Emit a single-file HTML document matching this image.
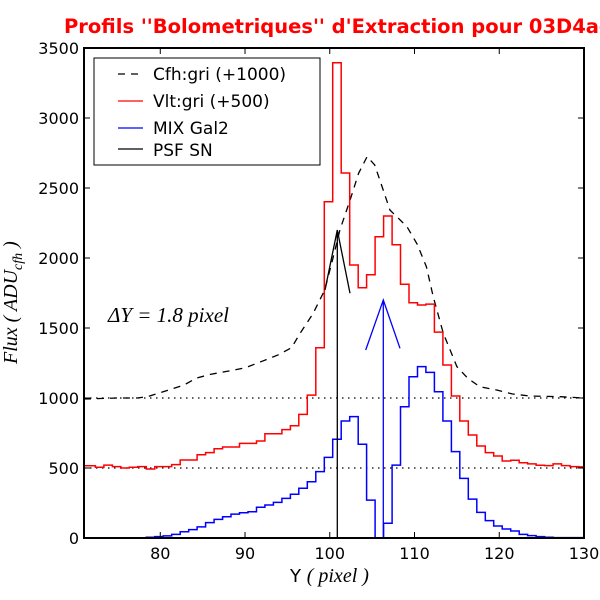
<!DOCTYPE html>
<html><head><meta charset="utf-8"><style>
html,body{margin:0;padding:0;background:#fff;}
svg{display:block;}
text{font-family:"DejaVu Sans","Liberation Sans",sans-serif;}
.m{font-family:"Liberation Serif",serif;font-style:italic;}
</style></head><body>
<svg id="s" width="600" height="600" viewBox="0 0 600 600" xmlns="http://www.w3.org/2000/svg">
<defs><clipPath id="c"><rect x="84" y="48" width="500" height="490"/></clipPath></defs>
<text x="64" y="33" fill="#ff0000" font-size="19.5" font-weight="bold">Profils ''Bolometriques'' d'Extraction pour 03D4ag</text>
<g id="plot" clip-path="url(#c)"></g>
<rect x="84" y="48" width="500" height="490" fill="none" stroke="#000" stroke-width="2"/>
<g id="ticks" stroke="#000" stroke-width="1"></g>
<g id="labels" font-size="16" fill="#000"></g>
<rect x="94" y="58" width="226" height="107" fill="#fff" stroke="#000" stroke-width="1"/>
<line x1="118" y1="74" x2="143" y2="74" stroke="#000" stroke-width="1.2" stroke-dasharray="7,6"/>
<line x1="118" y1="101" x2="143" y2="101" stroke="#ff0000" stroke-width="1.2"/>
<line x1="118" y1="128" x2="143" y2="128" stroke="#0000ff" stroke-width="1.2"/>
<line x1="118" y1="149" x2="143" y2="149" stroke="#000" stroke-width="1.2"/>
<g font-size="17" fill="#000">
<text x="153" y="80">Cfh:gri (+1000)</text>
<text x="153" y="107">Vlt:gri (+500)</text>
<text x="153" y="134">MIX Gal2</text>
<text x="153" y="156">PSF SN</text>
</g>
<text x="108" y="322" class="m" font-size="21">ΔY = 1.8 pixel</text>
<text x="290" y="582" font-size="18">Y <tspan class="m" font-size="20">( pixel )</tspan></text>
<text transform="translate(17,364) rotate(-90)" class="m" font-size="20">Flux ( ADU<tspan font-size="14" dy="5">cfh</tspan><tspan dy="-5"> )</tspan></text>
</svg>
<script>
var X=function(u){return 84+(u-71)*500/59;};
var Y=function(v){return 538-v*0.14;};
var red={70:516,71:516,72:505,73:521,74:510,75:500,76:505,77:510,78:493,79:510,80:510,81:524,82:557,83:557,84:595,85:610,86:638,87:650,88:650,89:676,90:676,91:693,92:745,93:745,94:774,95:802,96:883,97:1021,98:1359,99:2402,100:3395,101:2607,102:1950,103:1788,104:1881,105:2152,106:2300,107:2095,108:1812,109:1681,110:1664,111:1671,112:1471,113:1236,114:1014,115:836,116:736,117:657,118:610,119:586,120:550,121:555,122:538,123:529,124:519,125:517,126:529,127:517,128:510,129:508};
var blue={70:0,71:0,72:0,73:0,74:0,75:0,76:0,77:0,78:5,79:10,80:15,81:26,82:45,83:60,84:79,85:110,86:133,87:152,88:171,89:180,90:188,91:219,92:236,93:254,94:283,95:312,96:355,97:402,98:474,99:576,100:705,101:836,102:867,103:669,104:271,105:-50,106:105,107:521,108:938,109:1152,110:1224,111:1183,112:1045,113:836,114:617,115:426,116:278,117:183,118:124,119:86,120:64,121:50,122:26,123:17,124:10,125:5,126:3,127:3,128:3,129:3};
function step(d){var p="";for(var n=70;n<=129;n++){var a=X(n+0.35),b=X(n+1.35),y=Y(d[n]);p+=(n==70?"M":"L")+a.toFixed(1)+","+y.toFixed(1)+"L"+b.toFixed(1)+","+y.toFixed(1);}return p;}
var dash=[[71,993],[75,1000],[77.3,1000],[78.5,1010],[80,1038],[82.8,1093],[84.3,1143],[86,1170],[88,1192],[90,1215],[92,1262],[94,1310],[95.5,1360],[96.5,1462],[98,1600],[99.4,1771],[100.3,1980],[101.2,2200],[102.4,2414],[103.4,2605],[104.4,2724],[105.3,2664],[106.3,2486],[107.1,2343],[109.1,2224],[110.3,2100],[111.4,1938],[112.2,1724],[113.4,1462],[115,1224],[116.3,1140],[117.7,1081],[119.7,1057],[121.5,1029],[123.6,1014],[127.2,1009],[130,1000]];
var dp="M"+dash.map(function(q){return X(q[0]).toFixed(1)+","+Y(q[1]).toFixed(1);}).join("L");
var g=document.getElementById("plot");
var h='';
h+='<line x1="84" y1="'+Y(1000)+'" x2="584" y2="'+Y(1000)+'" stroke="#000" stroke-width="1.2" stroke-dasharray="1.5,4.5"/>';
h+='<line x1="84" y1="'+Y(500)+'" x2="584" y2="'+Y(500)+'" stroke="#000" stroke-width="1.2" stroke-dasharray="1.5,4.5"/>';
h+='<path d="'+dp+'" fill="none" stroke="#000" stroke-width="1.3" stroke-dasharray="7,6"/>';
h+='<path d="'+step(red)+'" fill="none" stroke="#ff0000" stroke-width="1.5"/>';
h+='<path d="'+step(blue)+'" fill="none" stroke="#0000ff" stroke-width="1.5"/>';
h+='<path d="M337.3,540L337.3,230M325,290L337.3,230L350,293.3" fill="none" stroke="#000" stroke-width="1.3"/>';
h+='<path d="M383.3,540L383.3,300M365.7,350L383.3,300L400,348.3" fill="none" stroke="#0000ff" stroke-width="1.3"/>';
g.innerHTML=h;
var t='',l='';
for(var v=0;v<=3500;v+=500){var y=Y(v);t+='<line x1="84" y1="'+y+'" x2="90" y2="'+y+'"/><line x1="578" y1="'+y+'" x2="584" y2="'+y+'"/>';l+='<text x="79" y="'+(y+6)+'" text-anchor="end">'+v+'</text>';}
for(var u=80;u<=130;u+=10){var x=X(u);t+='<line x1="'+x+'" y1="538" x2="'+x+'" y2="532"/><line x1="'+x+'" y1="48" x2="'+x+'" y2="54"/>';l+='<text x="'+x+'" y="559" text-anchor="middle">'+u+'</text>';}
document.getElementById("ticks").innerHTML=t;
document.getElementById("labels").innerHTML=l;
</script>
</body></html>
